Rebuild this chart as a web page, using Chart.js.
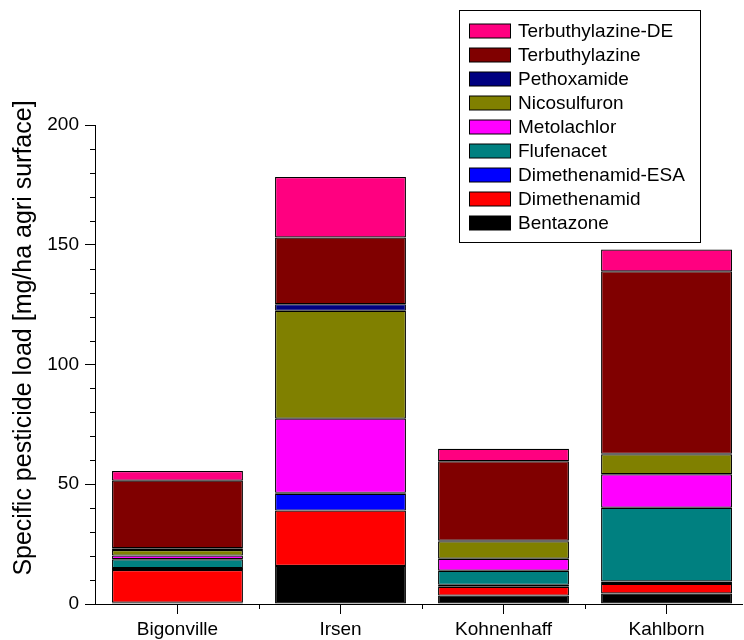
<!DOCTYPE html>
<html>
<head>
<meta charset="utf-8">
<script src="https://cdn.jsdelivr.net/npm/chart.js@4/dist/chart.umd.min.js"></script>
<style>
  html, body { margin: 0; padding: 0; background: #fff; }
  #wrap { width: 744px; height: 640px; }
</style>
</head>
<body>
<div id="wrap"><canvas id="c" width="744" height="640"></canvas></div>
<script>
// Sampling sites (x axis)
const sites = ['Bigonville', 'Irsen', 'Kohnenhaff', 'Kahlborn'];

// Specific pesticide load per site [mg/ha agri surface], stacked bottom to top
const bentazone        = [0.5, 15.9, 3.5, 4.4];
const dimethenamid     = [13.7, 23.1, 3.7, 4.0];
const dimethenamidEsa  = [0.8, 7.0, 0.8, 1.0];
const flufenacet       = [3.7, 0.4, 5.9, 30.8];
const metolachlor      = [1.5, 31.0, 5.0, 14.0];
const nicosulfuron     = [2.3, 45.0, 7.3, 8.3];
const pethoxamide      = [0.8, 2.8, 0.2, 0.2];
const terbuthylazine   = [28.2, 27.8, 33.2, 76.2];
const terbuthylazineDe = [4.0, 25.3, 5.2, 9.1];

// Axis ticks
const yMajorTicks = [0, 50, 100, 150, 200];
const yMinorStep = 10;
const xMinorTicks = [0.5, 1.5, 2.5];

const yTitle = 'Specific pesticide load [mg/ha agri surface]';
const FONT = "'Liberation Sans', Arial, sans-serif";

const series = [
  { label: 'Bentazone',         values: bentazone,        color: '#000000' },
  { label: 'Dimethenamid',      values: dimethenamid,     color: '#FF0000' },
  { label: 'Dimethenamid-ESA',  values: dimethenamidEsa,  color: '#0000FF' },
  { label: 'Flufenacet',        values: flufenacet,       color: '#008080' },
  { label: 'Metolachlor',       values: metolachlor,      color: '#FF00FF' },
  { label: 'Nicosulfuron',      values: nicosulfuron,     color: '#808000' },
  { label: 'Pethoxamide',       values: pethoxamide,      color: '#000080' },
  { label: 'Terbuthylazine',    values: terbuthylazine,   color: '#800000' },
  { label: 'Terbuthylazine-DE', values: terbuthylazineDe, color: '#FF0080' }
];

const datasets = series.map(s => ({
  label: s.label,
  data: s.values.map((v, i) => ({ x: i, y: v })),
  backgroundColor: s.color,
  borderColor: '#000000',
  borderWidth: 1.2,
  borderSkipped: false,
  barPercentage: 0.803,
  categoryPercentage: 1.0
}));

// Short minor tick marks on both axes
const minorTicks = {
  id: 'minorTicks',
  afterDraw(chart) {
    const { ctx, chartArea, scales } = chart;
    ctx.save();
    ctx.strokeStyle = '#000';
    ctx.lineWidth = 1;
    ctx.beginPath();
    const yMin = scales.y.min, yMax = scales.y.max;
    for (let v = yMin + yMinorStep; v < yMax; v += yMinorStep) {
      if (yMajorTicks.includes(v)) continue;
      const py = Math.round(scales.y.getPixelForValue(v)) + 0.5;
      ctx.moveTo(chartArea.left - 5, py);
      ctx.lineTo(chartArea.left + 0.5, py);
    }
    xMinorTicks.forEach(v => {
      const px = Math.round(scales.x.getPixelForValue(v)) + 0.5;
      ctx.moveTo(px, chartArea.bottom);
      ctx.lineTo(px, chartArea.bottom + 5);
    });
    ctx.stroke();
    ctx.restore();
  }
};

// Rotated y-axis title
const axisTitle = {
  id: 'axisTitle',
  afterDraw(chart) {
    const { ctx } = chart;
    ctx.save();
    ctx.translate(24, 338);
    ctx.rotate(-Math.PI / 2);
    ctx.font = '25px ' + FONT;
    ctx.fillStyle = '#000';
    ctx.textAlign = 'center';
    ctx.textBaseline = 'middle';
    ctx.fillText(yTitle, 0, 0);
    ctx.restore();
  }
};

// Boxed legend in the upper right, top entry = top of the stack
const boxLegend = {
  id: 'boxLegend',
  afterDraw(chart) {
    const { ctx } = chart;
    const items = chart.data.datasets.slice().reverse();
    const left = 459.5, top = 10.5, width = 241, height = 232;
    ctx.save();
    ctx.fillStyle = '#fff';
    ctx.fillRect(left, top, width, height);
    ctx.strokeStyle = '#000';
    ctx.lineWidth = 1;
    ctx.strokeRect(left, top, width, height);
    ctx.font = '19px ' + FONT;
    ctx.textBaseline = 'middle';
    ctx.textAlign = 'left';
    items.forEach((ds, i) => {
      const cy = 31 + i * 24;
      ctx.fillStyle = ds.backgroundColor;
      ctx.fillRect(469.5, cy - 7, 41, 14);
      ctx.strokeStyle = '#000';
      ctx.strokeRect(469.5, cy - 7, 41, 14);
      ctx.fillStyle = '#000';
      ctx.fillText(ds.label, 518, cy + 1);
    });
    ctx.restore();
  }
};

new Chart(document.getElementById('c'), {
  type: 'bar',
  data: { datasets },
  options: {
    responsive: false,
    animation: false,
    devicePixelRatio: 1,
    layout: { padding: { top: 125, right: 2, bottom: 0, left: 0 } },
    plugins: {
      legend: { display: false },
      tooltip: { enabled: false },
      title: { display: false }
    },
    scales: {
      x: {
        type: 'linear',
        stacked: true,
        offset: false,
        min: -0.506,
        max: 3.463,
        afterBuildTicks(scale) {
          scale.ticks = sites.map((_, i) => ({ value: i }));
        },
        afterFit(scale) { scale.height = 36; },
        ticks: {
          callback: (v) => sites[v],
          color: '#000',
          font: { family: FONT, size: 19 },
          padding: 4,
          maxRotation: 0,
          autoSkip: false
        },
        grid: {
          display: true,
          offset: false,
          drawOnChartArea: false,
          drawTicks: true,
          tickLength: 10,
          tickColor: '#000',
          tickWidth: 1
        },
        border: { display: true, color: '#000', width: 1 }
      },
      y: {
        stacked: true,
        min: 0,
        max: 200,
        afterBuildTicks(scale) {
          scale.ticks = yMajorTicks.map(v => ({ value: v }));
        },
        afterFit(scale) { scale.width = 95; },
        ticks: {
          color: '#000',
          font: { family: FONT, size: 19 },
          padding: 6
        },
        grid: {
          display: true,
          drawOnChartArea: false,
          drawTicks: true,
          tickLength: 10,
          tickColor: '#000',
          tickWidth: 1
        },
        border: { display: true, color: '#000', width: 1 }
      }
    }
  },
  plugins: [minorTicks, axisTitle, boxLegend]
});
</script>
</body>
</html>
